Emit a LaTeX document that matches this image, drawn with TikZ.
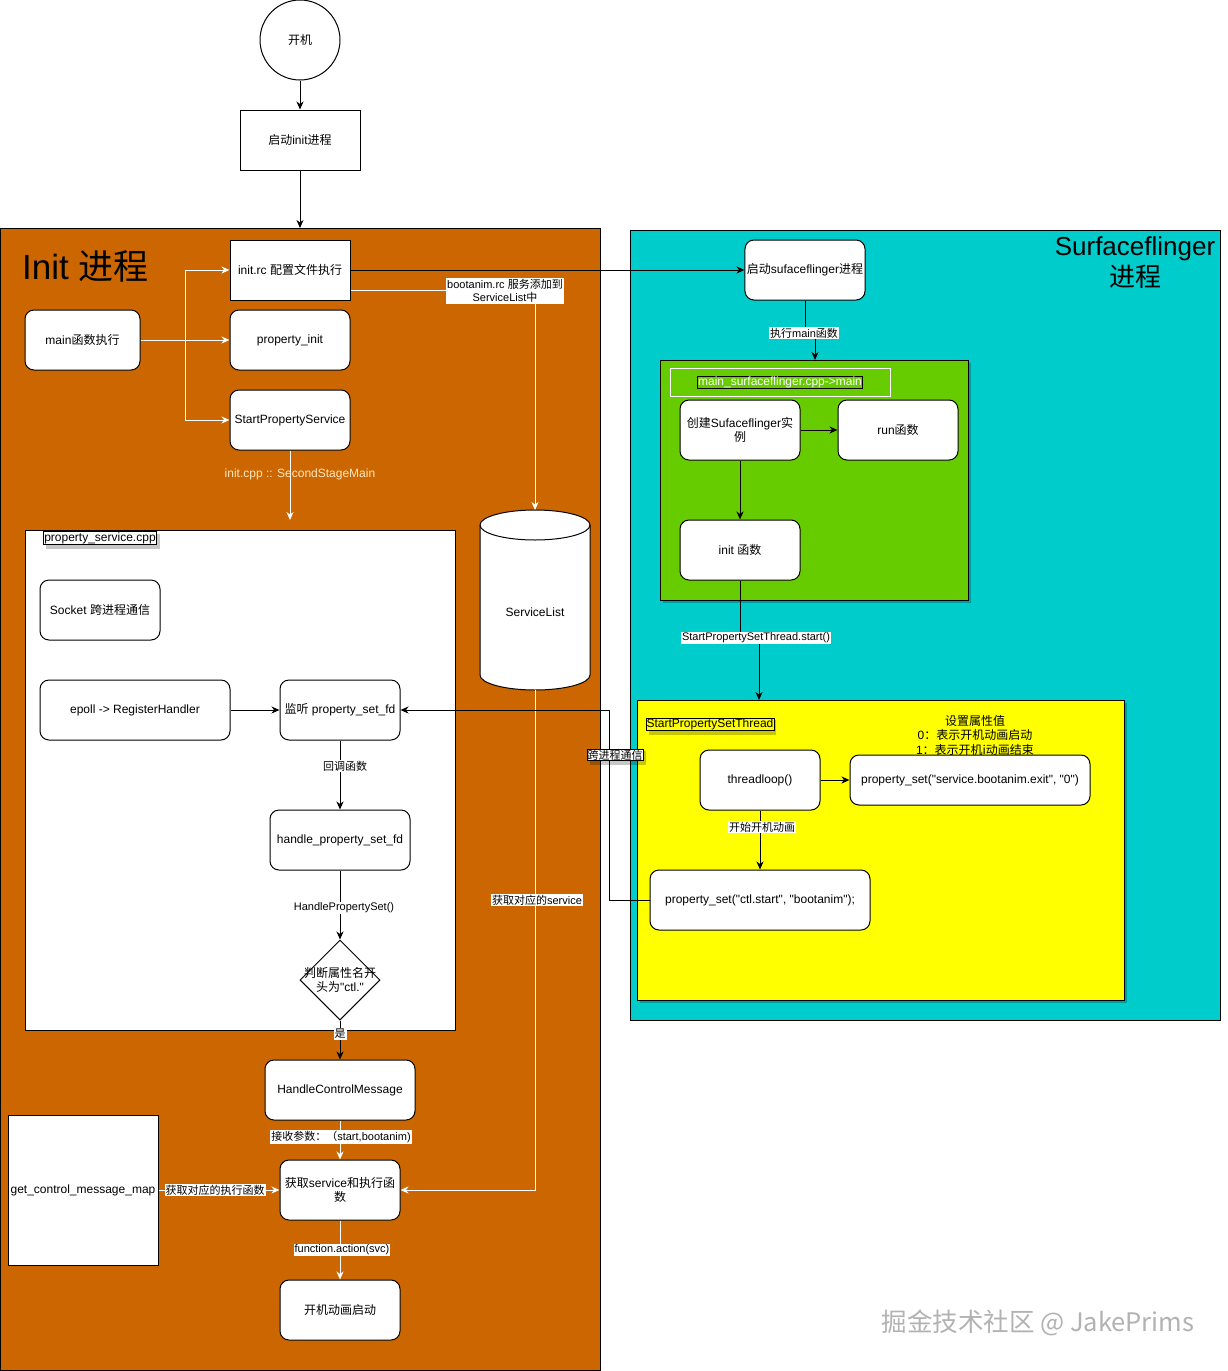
\documentclass[tikz,border=0pt]{standalone}
\usepackage{fontspec}
\newfontfamily\arialf{Liberation Sans}
\newfontfamily\zhfont{Noto Sans CJK SC}
\newcommand\zh[1]{{\zhfont #1}}
\newcommand\fa{\arialf\fontsize{12}{14.5}\selectfont}
\newcommand\fb{\arialf\fontsize{11}{13.5}\selectfont}
\usetikzlibrary{arrows.meta,shapes.geometric,calc}
\definecolor{orangebg}{HTML}{CC6600}
\definecolor{cyanbg}{HTML}{00CCCC}
\definecolor{greenbg}{HTML}{66CC00}
\definecolor{yellowbg}{HTML}{FFFF00}
\definecolor{creamtxt}{RGB}{255,232,190}
\tikzset{
  nd/.style={draw=black, fill=white, line width=1pt, inner sep=2pt, align=center, font=\fa, text=black},
  rnd/.style={nd, rounded corners=9pt},
  lbl/.style={fill=white, inner sep=1pt, align=center, font=\fb, text=black},
  warr/.style={draw=white, line width=1pt, -{Stealth[length=8pt,width=7pt,inset=2.5pt]}},
  barr/.style={draw=black, line width=1pt, -{Stealth[length=8pt,width=7pt,inset=2.5pt]}},
  wline/.style={draw=white, line width=1pt},
  shd/.style={fill=black, opacity=0.22},
}
\begin{document}
\begin{tikzpicture}[x=1pt,y=-1pt]
\useasboundingbox (0,0) rectangle (1227,1371);
\fill[white] (0,0) rectangle (1227,1371);

% ---------- top ----------
\node[nd, circle, minimum size=80pt, inner sep=0pt] (kaiji) at (300,40) {\zh{开机}};
\node[nd, minimum width=120pt, minimum height=60pt] (initp) at (300,140) {\zh{启动}init\zh{进程}};

% ---------- Init container ----------
\draw[fill=orangebg, line width=1pt] (0,228) rectangle (600,1370);
\coordinate (otop) at (300,228);
\draw[barr] (kaiji) -- (initp);
\draw[barr] (initp) -- (otop);
\node[anchor=west, font=\arialf\fontsize{35}{40}\selectfont, text=black, inner sep=0pt] (inittitle) at (22,266) {Init \zh{进程}};

\node[nd, minimum width=120pt, minimum height=60pt] (initrc) at (290,270) {init.rc \zh{配置文件执行}};
\node[rnd, minimum width=120pt, minimum height=60pt] (propinit) at (290,340) {property\_init};
\node[rnd, minimum width=120pt, minimum height=60pt] (sps) at (290,420) {StartPropertyService};
\node[rnd, minimum width=115pt, minimum height=60pt] (mainf) at (82.5,340) {main\zh{函数执行}};

\coordinate (br1) at (185,270);
\coordinate (br2) at (185,420);
\draw[warr] (mainf) -- (propinit);
\draw[wline] (br1) -- (br2);
\draw[warr] (br1) -- (initrc.west);
\draw[warr] (br2) -- (sps.west);

\coordinate (pstop) at (290,520);
\draw[warr] (sps) -- (pstop);
\node[font=\fa, text=creamtxt, inner sep=0pt] (seclbl) at (300,474) {init.cpp :: SecondStageMain};

% property_service container
\draw[fill=white, line width=1pt] (25,530) rectangle (455,1030);
\fill[shd] (46,534) rectangle (160,549);
\node[draw=black, fill=white, inner sep=1pt, font=\fa, text=black] (pslbl) at (100,538) {property\_service.cpp};

\node[rnd, minimum width=120pt, minimum height=60pt] (socket) at (100,610) {Socket \zh{跨进程通信}};
\node[rnd, minimum width=190pt, minimum height=60pt] (epoll) at (135,710) {epoll -> RegisterHandler};
\node[rnd, minimum width=120pt, minimum height=60pt] (listen) at (340,710) {\zh{监听} property\_set\_fd};
\node[rnd, minimum width=140pt, minimum height=60pt] (handle) at (340,840) {handle\_property\_set\_fd};
\node[diamond, draw=black, fill=white, line width=1pt, minimum width=80pt, minimum height=80pt, inner sep=0pt] (diam) at (340,980) {};
\node[font=\fa, align=center, text=black, inner sep=0pt] (diamtxt) at (340,980) {\zh{判断属性名开}\\\zh{头为}"ctl."};

\draw[barr] (epoll) -- (listen);
\draw[barr] (listen) -- (handle);
\node[lbl] (l1) at (345,766) {\zh{回调函数}};
\draw[barr] (handle) -- (diam);
\node[lbl] (l2) at (344,908) {HandlePropertySet()};

% ServiceList cylinder
\draw[fill=white, line width=1pt] (480,525) -- (480,675) arc[start angle=180, end angle=0, x radius=55, y radius=15] -- (590,525) arc[start angle=0, end angle=-180, x radius=55, y radius=15] -- cycle;
\draw[line width=1pt] (480,525) arc[start angle=180, end angle=0, x radius=55, y radius=15];
\node[font=\fa, text=black] (svclbl) at (535,612) {ServiceList};
\coordinate (svctop) at (535,510);
\coordinate (svcbot) at (535,690);

\draw[warr] ($(initrc.east)+(0,20)$) -| (svctop);
\node[lbl] (l3) at (505,291) {bootanim.rc \zh{服务添加到}\\ServiceList\zh{中}};

% lower part
\node[rnd, minimum width=150pt, minimum height=60pt] (hcm) at (340,1090) {HandleControlMessage};
\node[rnd, minimum width=120pt, minimum height=60pt] (getsvc) at (340,1190) {\zh{获取}service\zh{和执行函}\\\zh{数}};
\node[rnd, minimum width=120pt, minimum height=60pt] (bootstart) at (340,1310) {\zh{开机动画启动}};
\node[nd, minimum width=150pt, minimum height=150pt] (gcmm) at (83,1190) {get\_control\_message\_map};

\draw[barr] (diam) -- (hcm);
\node[lbl] (l4) at (340,1034) {\zh{是}};
\draw[warr] (hcm) -- (getsvc);
\node[lbl] (l5) at (341,1137) {\zh{接收参数：（}start,bootanim)};
\draw[warr] (gcmm) -- (getsvc);
\node[lbl] (l6) at (215,1190) {\zh{获取对应的执行函数}};
\draw[warr] (getsvc) -- (bootstart);
\node[lbl] (l7) at (342,1250) {function.action(svc)};
\draw[warr] (svcbot) |- (getsvc.east);
\node[lbl] (l8) at (537,900) {\zh{获取对应的}service};

% ---------- Surfaceflinger container ----------
\draw[fill=cyanbg, line width=1pt] (630,230) rectangle (1220,1020);
\node[font=\arialf\fontsize{26}{31}\selectfont, align=center, text=black, inner sep=0pt] (sftitle) at (1135,263) {Surfaceflinger\\\zh{进程}};

\node[rnd, minimum width=120pt, minimum height=60pt] (sfstart) at (805,270) {\zh{启动}sufaceflinger\zh{进程}};
\draw[barr] (initrc) -- (sfstart);

% green box
\fill[shd] (663,363) rectangle (971,603);
\draw[fill=greenbg, line width=1pt] (660,360) rectangle (968,600);
\coordinate (gtop) at (815,360);
\draw[barr] (sfstart.south) -- ++(0,33) -| (gtop);
\node[lbl] (l9) at (804,333) {\zh{执行}main\zh{函数}};
\draw[draw=white, line width=1pt] (670,368) rectangle (890,396);
\node[draw=black, fill=greenbg, text=white, inner sep=0.5pt, font=\fa] (glbl) at (780,382) {main\_surfaceflinger.cpp->main};

\node[rnd, minimum width=120pt, minimum height=60pt] (create) at (740,430) {\zh{创建}Sufaceflinger\zh{实}\\\zh{例}};
\node[rnd, minimum width=120pt, minimum height=60pt] (run) at (898,430) {run\zh{函数}};
\node[rnd, minimum width=120pt, minimum height=60pt] (initf) at (740,550) {init \zh{函数}};
\draw[barr] (create) -- (run);
\draw[barr] (create) -- (initf);

% yellow box
\fill[shd] (640,703) rectangle (1127,1003);
\draw[fill=yellowbg, line width=1pt] (637,700) rectangle (1124,1000);
\coordinate (ytop) at (759,700);
\draw[barr] (initf.south) -- ++(0,58) -| (ytop);
\node[lbl] (l10) at (756,638) {StartPropertySetThread.start()};
\fill[shd] (649,720) rectangle (776,735);
\node[draw=black, fill=yellowbg, text=black, inner sep=0.5pt, font=\fa] (ylbl) at (710,724) {StartPropertySetThread};
\node[font=\fa, align=center, text=black, inner sep=0pt] (info) at (975,735) {\zh{设置属性值}\\0\zh{：表示开机动画启动}\\1\zh{：表示开机i动画结束}};

\node[rnd, minimum width=120pt, minimum height=60pt] (tloop) at (760,780) {threadloop()};
\node[rnd, minimum width=240pt, minimum height=50pt] (psexit) at (970,780) {property\_set("service.bootanim.exit", "0")};
\node[rnd, minimum width=220pt, minimum height=60pt] (psstart) at (760,900) {property\_set("ctl.start", "bootanim");};
\draw[barr] (tloop) -- (psexit);
\draw[barr] (tloop) -- (psstart);
\node[lbl] (l11) at (762,827) {\zh{开始开机动画}};

% cross-process connector
\draw[barr] (psstart.west) -- ++(-40,0) |- (listen.east);
\fill[shd] (590,751) rectangle (646,765);
\node[draw=black, fill=white, inner sep=0.5pt, font=\fb, text=black] (l12) at (615,755) {\zh{跨进程通信}};

% watermark
\node[font=\zhfont\fontsize{25.5}{30}\selectfont, text=black!30, inner sep=0pt] (wm) at (1038,1323) {掘金技术社区 @ JakePrims};
\end{tikzpicture}
\end{document}
